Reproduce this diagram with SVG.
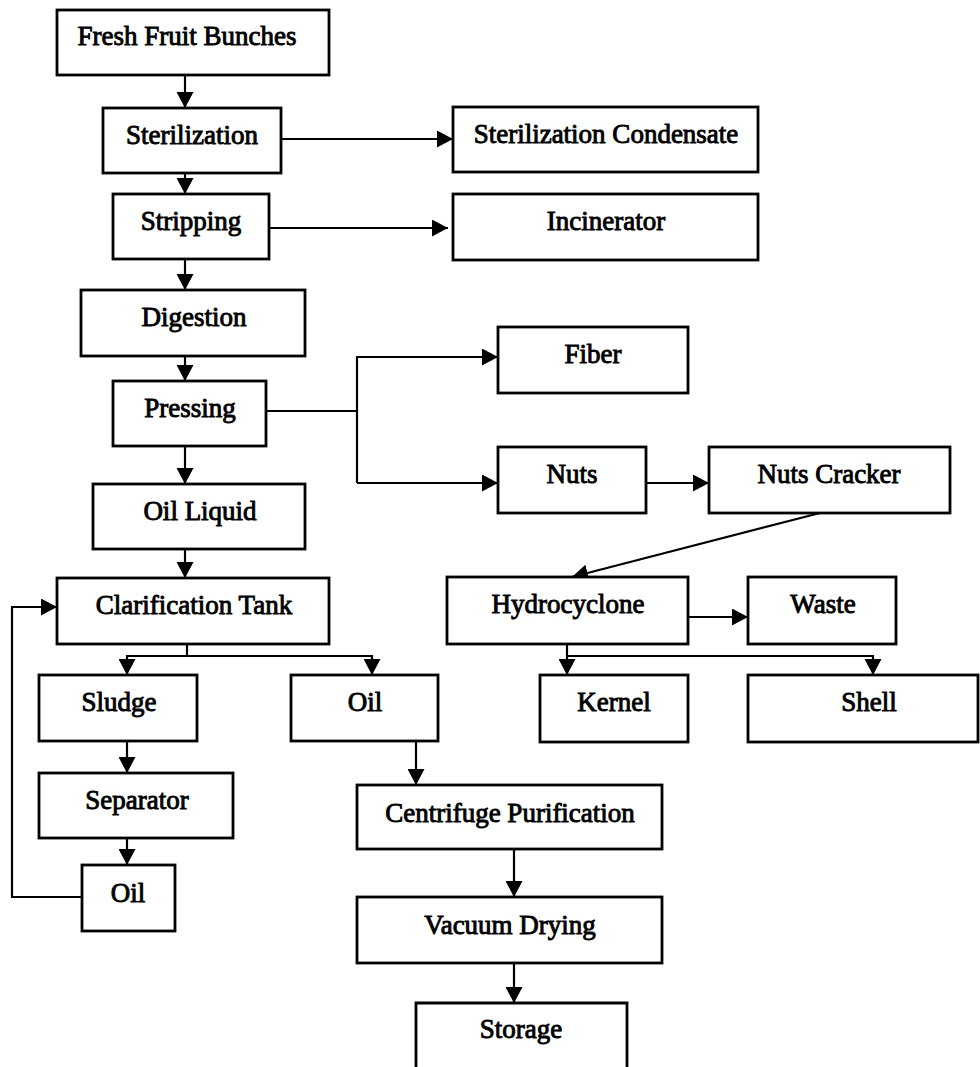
<svg xmlns="http://www.w3.org/2000/svg" width="980" height="1067" viewBox="0 0 980 1067">
<style>
  .box { fill: #fff; stroke: #000; stroke-width: 2.8; }
  .lbl { font-family: "Liberation Serif", "Times New Roman", serif; font-size: 27px; fill: #000; stroke: #000; stroke-width: 0.9; text-anchor: middle; }
  .cn { fill: none; stroke: #000; stroke-width: 2.2; }
</style>
<defs>
  <marker id="ah" markerUnits="userSpaceOnUse" markerWidth="16" markerHeight="17" viewBox="0 0 16 17" refX="16" refY="8.5" orient="auto">
    <path d="M0,0 L16,8.5 L0,17 z" fill="#000"/>
  </marker>
</defs>
<rect width="980" height="1067" fill="#fff"/>

<g id="connectors">
  <line class="cn" x1="185" y1="75" x2="185" y2="108" marker-end="url(#ah)"/>
  <line class="cn" x1="281" y1="139" x2="453" y2="139" marker-end="url(#ah)"/>
  <line class="cn" x1="185" y1="173" x2="185" y2="194" marker-end="url(#ah)"/>
  <line class="cn" x1="269" y1="228" x2="448" y2="228" marker-end="url(#ah)"/>
  <line class="cn" x1="185" y1="259" x2="185" y2="290" marker-end="url(#ah)"/>
  <line class="cn" x1="185" y1="356" x2="185" y2="381" marker-end="url(#ah)"/>
  <polyline class="cn" points="266,411 357,411"/>
  <polyline class="cn" points="357,483 357,357 498,357" marker-end="url(#ah)"/>
  <line class="cn" x1="357" y1="483" x2="498" y2="483" marker-end="url(#ah)"/>
  <line class="cn" x1="646" y1="483" x2="709" y2="483" marker-end="url(#ah)"/>
  <line class="cn" x1="820" y1="513" x2="572" y2="577" marker-end="url(#ah)"/>
  <line class="cn" x1="688" y1="617" x2="748" y2="617" marker-end="url(#ah)"/>
  <line class="cn" x1="567" y1="644" x2="567" y2="675" marker-end="url(#ah)"/>
  <polyline class="cn" points="567,656 873,656 873,675" marker-end="url(#ah)"/>
  <line class="cn" x1="185" y1="446" x2="185" y2="484" marker-end="url(#ah)"/>
  <line class="cn" x1="185" y1="549" x2="185" y2="578" marker-end="url(#ah)"/>
  <polyline class="cn" points="187,644 187,656"/>
  <polyline class="cn" points="187,656 127,656 127,675" marker-end="url(#ah)"/>
  <polyline class="cn" points="187,656 372,656 372,675" marker-end="url(#ah)"/>
  <line class="cn" x1="127" y1="741" x2="127" y2="773" marker-end="url(#ah)"/>
  <line class="cn" x1="127" y1="838" x2="127" y2="865" marker-end="url(#ah)"/>
  <polyline class="cn" points="82,897 12,897 12,607 57,607" marker-end="url(#ah)"/>
  <line class="cn" x1="416" y1="741" x2="416" y2="785" marker-end="url(#ah)"/>
  <line class="cn" x1="514" y1="849" x2="514" y2="897" marker-end="url(#ah)"/>
  <line class="cn" x1="514" y1="963" x2="514" y2="1003" marker-end="url(#ah)"/>
</g>

<g id="fresh-fruit-bunches"><rect class="box" x="57" y="10" width="272" height="65"/><text class="lbl" x="187" y="45">Fresh Fruit Bunches</text></g>
<g id="sterilization"><rect class="box" x="103" y="108" width="178" height="65"/><text class="lbl" x="192" y="144">Sterilization</text></g>
<g id="sterilization-condensate"><rect class="box" x="453" y="107" width="305" height="65"/><text class="lbl" x="606" y="143">Sterilization Condensate</text></g>
<g id="stripping"><rect class="box" x="113" y="194" width="156" height="65"/><text class="lbl" x="191" y="230">Stripping</text></g>
<g id="incinerator"><rect class="box" x="453" y="194" width="305" height="66"/><text class="lbl" x="606" y="230">Incinerator</text></g>
<g id="digestion"><rect class="box" x="81" y="290" width="224" height="66"/><text class="lbl" x="194" y="326">Digestion</text></g>
<g id="pressing"><rect class="box" x="113" y="381" width="153" height="65"/><text class="lbl" x="190" y="417">Pressing</text></g>
<g id="fiber"><rect class="box" x="498" y="327" width="190" height="66"/><text class="lbl" x="593" y="363">Fiber</text></g>
<g id="nuts"><rect class="box" x="498" y="447" width="148" height="66"/><text class="lbl" x="572" y="483">Nuts</text></g>
<g id="nuts-cracker"><rect class="box" x="709" y="447" width="241" height="66"/><text class="lbl" x="829" y="483">Nuts Cracker</text></g>
<g id="oil-liquid"><rect class="box" x="93" y="484" width="212" height="65"/><text class="lbl" x="200" y="520">Oil Liquid</text></g>
<g id="clarification-tank"><rect class="box" x="57" y="578" width="272" height="66"/><text class="lbl" x="194" y="614">Clarification Tank</text></g>
<g id="hydrocyclone"><rect class="box" x="447" y="577" width="241" height="67"/><text class="lbl" x="568" y="613">Hydrocyclone</text></g>
<g id="waste"><rect class="box" x="748" y="577" width="148" height="67"/><text class="lbl" x="823" y="613">Waste</text></g>
<g id="sludge"><rect class="box" x="39" y="675" width="158" height="66"/><text class="lbl" x="119" y="711">Sludge</text></g>
<g id="oil-clarified"><rect class="box" x="291" y="675" width="147" height="66"/><text class="lbl" x="365" y="711">Oil</text></g>
<g id="kernel"><rect class="box" x="540" y="675" width="148" height="67"/><text class="lbl" x="614" y="711">Kernel</text></g>
<g id="shell"><rect class="box" x="748" y="675" width="230" height="67"/><text class="lbl" x="869" y="711">Shell</text></g>
<g id="separator"><rect class="box" x="39" y="773" width="194" height="65"/><text class="lbl" x="137" y="809">Separator</text></g>
<g id="oil-recovered"><rect class="box" x="82" y="865" width="93" height="66"/><text class="lbl" x="128" y="902">Oil</text></g>
<g id="centrifuge-purification"><rect class="box" x="357" y="785" width="305" height="64"/><text class="lbl" x="510" y="822">Centrifuge Purification</text></g>
<g id="vacuum-drying"><rect class="box" x="357" y="897" width="305" height="66"/><text class="lbl" x="510" y="934">Vacuum Drying</text></g>
<g id="storage"><path class="box" d="M416,1067 V1003 H627 V1067" fill="none"/><text class="lbl" x="521" y="1038">Storage</text></g>
</svg>
